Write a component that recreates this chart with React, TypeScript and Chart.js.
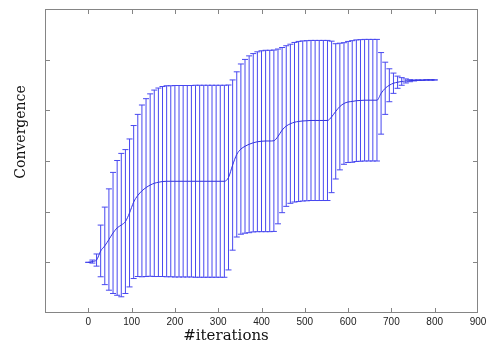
import React, { useEffect, useRef } from "react";
import { Chart, registerables } from "chart.js";

Chart.register(...registerables);

// Sample positions: 85 evenly spaced iterations from 0 to 800
const sampleCount = 85;
const lastIteration = 800;
const iterations: number[] = Array.from(
  { length: sampleCount },
  (_, k) => (k * lastIteration) / (sampleCount - 1)
);

// Mean convergence at each sample
const convergenceMean: number[] = [
  0.2, 0.203, 0.209, 0.245, 0.265, 0.29, 0.316, 0.336, 0.347, 0.361,
  0.395, 0.438, 0.464, 0.482, 0.495, 0.505, 0.512, 0.516, 0.519, 0.52,
  0.52, 0.52, 0.52, 0.52, 0.52, 0.52, 0.52, 0.52, 0.52, 0.52,
  0.52, 0.52, 0.52, 0.52, 0.535, 0.584, 0.626, 0.647, 0.658, 0.666,
  0.672, 0.676, 0.678, 0.679, 0.679, 0.68, 0.697, 0.722, 0.738, 0.747,
  0.753, 0.756, 0.758, 0.759, 0.76, 0.76, 0.76, 0.76, 0.76, 0.774,
  0.796, 0.815, 0.827, 0.833, 0.835, 0.838, 0.839, 0.84, 0.84, 0.84,
  0.84, 0.867, 0.887, 0.899, 0.907, 0.911, 0.914, 0.916, 0.917, 0.918,
  0.919, 0.919, 0.92, 0.92, 0.92,
];

// Standard deviation (error bar half-length) at each sample
const convergenceStd: number[] = [
  0, 0.006, 0.024, 0.102, 0.153, 0.2, 0.239, 0.266, 0.283, 0.284,
  0.292, 0.302, 0.32, 0.339, 0.351, 0.36, 0.368, 0.372, 0.375, 0.377,
  0.377, 0.378, 0.378, 0.378, 0.378, 0.378, 0.379, 0.379, 0.379, 0.379,
  0.379, 0.379, 0.379, 0.379, 0.365, 0.336, 0.326, 0.336, 0.343, 0.349,
  0.352, 0.355, 0.357, 0.358, 0.358, 0.358, 0.345, 0.326, 0.317, 0.314,
  0.315, 0.316, 0.316, 0.316, 0.316, 0.316, 0.316, 0.316, 0.316, 0.299,
  0.267, 0.25, 0.24, 0.239, 0.24, 0.24, 0.24, 0.24, 0.24, 0.24,
  0.24, 0.161, 0.103, 0.065, 0.04, 0.024, 0.015, 0.008, 0.004, 0.002,
  0.001, 0, 0, 0, 0,
];

const xTickStep = 100;
const yTickStep = 0.2;

const barColor = "rgb(72, 72, 240)";
const lineColor = "rgb(50, 50, 222)";
const frameColor = "#858585";
const serif = '"DejaVu Serif", serif';

// Vertical error bars with short caps, drawn under the mean curve
const errorBarsPlugin = {
  id: "errorBars",
  beforeDatasetsDraw(chart: any) {
    const { ctx, scales } = chart;
    const xs = scales.x;
    const ys = scales.y;
    const cap = 3;
    ctx.save();
    ctx.strokeStyle = barColor;
    ctx.lineWidth = 1;
    iterations.forEach((it, i) => {
      const px = xs.getPixelForValue(it);
      const top = ys.getPixelForValue(convergenceMean[i] + convergenceStd[i]);
      const bot = ys.getPixelForValue(convergenceMean[i] - convergenceStd[i]);
      ctx.beginPath();
      ctx.moveTo(px, top);
      ctx.lineTo(px, bot);
      ctx.moveTo(px - cap, top);
      ctx.lineTo(px + cap, top);
      ctx.moveTo(px - cap, bot);
      ctx.lineTo(px + cap, bot);
      ctx.stroke();
    });
    ctx.restore();
  },
};

// Boxed axes with inward tick marks on all four sides, plus axis titles
const boxAxesPlugin = {
  id: "boxAxes",
  afterDraw(chart: any) {
    const { ctx, chartArea, scales } = chart;
    const { left, right, top, bottom } = chartArea;
    const tickLen = 5;
    ctx.save();
    ctx.strokeStyle = frameColor;
    ctx.lineWidth = 1;
    ctx.strokeRect(
      Math.round(left) + 0.5,
      Math.round(top) + 0.5,
      Math.round(right - left) - 1,
      Math.round(bottom - top) - 1
    );
    ctx.beginPath();
    scales.x.ticks.forEach((t: any) => {
      const px = Math.round(scales.x.getPixelForValue(t.value)) + 0.5;
      if (px <= left + 1 || px >= right - 1) return;
      ctx.moveTo(px, bottom);
      ctx.lineTo(px, bottom - tickLen);
      ctx.moveTo(px, top);
      ctx.lineTo(px, top + tickLen);
    });
    scales.y.ticks.forEach((t: any) => {
      const py = Math.round(scales.y.getPixelForValue(t.value)) + 0.5;
      if (py <= top + 1 || py >= bottom - 1) return;
      ctx.moveTo(left, py);
      ctx.lineTo(left + tickLen, py);
      ctx.moveTo(right, py);
      ctx.lineTo(right - tickLen, py);
    });
    ctx.stroke();

    ctx.fillStyle = "#111";
    ctx.font = `15px ${serif}`;
    ctx.textAlign = "center";
    ctx.textBaseline = "alphabetic";
    ctx.fillText("#iterations", 226, 340);

    ctx.translate(25, 132);
    ctx.rotate(-Math.PI / 2);
    ctx.font = `14px ${serif}`;
    ctx.fillText("Convergence", 0, 0);
    ctx.restore();
  },
};

export default function App() {
  const canvasRef = useRef<HTMLCanvasElement | null>(null);

  useEffect(() => {
    const canvas = canvasRef.current;
    if (!canvas) return;
    const chart = new Chart(canvas, {
      type: "line",
      data: {
        datasets: [
          {
            label: "Convergence",
            data: iterations.map((x, i) => ({ x, y: convergenceMean[i] })),
            borderColor: lineColor,
            borderWidth: 1,
            pointRadius: 0,
            fill: false,
            cubicInterpolationMode: "monotone",
          },
        ],
      },
      options: {
        responsive: false,
        animation: false,
        events: [],
        layout: { padding: { top: 9, right: 9, left: 0, bottom: 0 } },
        plugins: {
          legend: { display: false },
          tooltip: { enabled: false },
          title: { display: false },
        },
        scales: {
          x: {
            type: "linear",
            min: -100,
            max: 900,
            grid: { display: false, drawTicks: false },
            border: { display: false },
            ticks: {
              stepSize: xTickStep,
              autoSkip: false,
              maxRotation: 0,
              padding: 3,
              color: "#222",
              font: { family: '"Liberation Sans", Arial, sans-serif', size: 10 },
              callback: (v: any) => (v < 0 ? "" : String(v)),
            },
            afterFit: (s: any) => {
              s.height = 33;
              s.paddingLeft = 0;
              s.paddingRight = 0;
            },
          },
          y: {
            type: "linear",
            min: 0,
            max: 1.2,
            grid: { display: false, drawTicks: false },
            border: { display: false },
            ticks: { stepSize: yTickStep, display: false },
            afterFit: (s: any) => {
              s.width = 45;
              s.paddingTop = 0;
              s.paddingBottom = 0;
            },
          },
        },
      },
      plugins: [errorBarsPlugin, boxAxesPlugin],
    });
    return () => chart.destroy();
  }, []);

  return (
    <canvas
      ref={canvasRef}
      width={487}
      height={346}
      style={{ position: "absolute", left: 0, top: 0, width: 487, height: 346, background: "#fff" }}
    />
  );
}
